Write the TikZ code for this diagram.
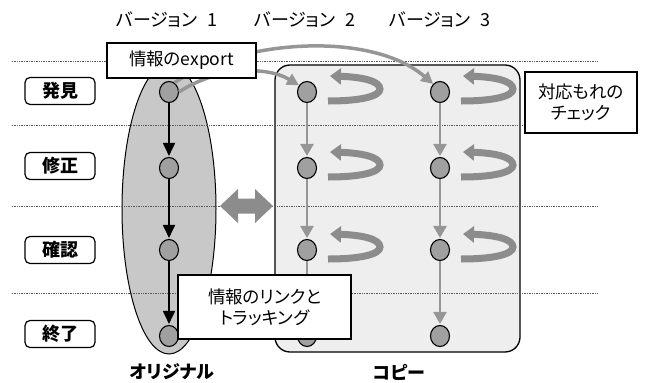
\documentclass[tikz,border=0pt]{standalone}
\usepackage{fontspec}
\setmainfont{Noto Sans CJK JP}[RawFeature=+palt]
\usetikzlibrary{arrows.meta,calc,shapes.geometric}
\definecolor{ellgray}{RGB}{200,200,200}
\definecolor{rectgray}{RGB}{238,238,238}
\definecolor{dotgray}{RGB}{160,160,160}
\definecolor{arrgray}{RGB}{150,150,150}
\definecolor{ugray}{RGB}{140,140,140}
\definecolor{linegray}{RGB}{90,90,90}
\tikzset{
  lbl/.style={draw, rounded corners=5pt, minimum width=70pt, minimum height=27pt, inner sep=0pt, line width=1.2pt, font=\bfseries\fontsize{18}{18}\selectfont},
  dotnode/.style={ellipse, draw, fill=dotgray, minimum width=19pt, minimum height=21pt, inner sep=0pt, line width=1.1pt},
  txtbox/.style={draw, fill=white, line width=1.2pt, align=center, inner sep=0pt, font=\fontsize{17.5}{21}\selectfont},
  hdr/.style={font=\fontsize{18}{18}\selectfont, inner sep=0pt},
  ftr/.style={font=\bfseries\fontsize{18}{18}\selectfont, inner sep=0pt},
  garrow/.style={draw=arrgray, line width=2.6pt, -{Triangle[width=13pt,length=12pt]}, shorten >=1pt},
  barrow/.style={draw=black, line width=1.8pt, -{Triangle[width=12pt,length=13pt]}, shorten >=1pt},
  uturn/.style={draw=ugray, line width=7pt, -{Triangle[width=16pt,length=11pt]}},
  exparrow/.style={draw=arrgray, line width=3.5pt, -{Triangle[width=12pt,length=12pt]}},
  guide/.style={draw=linegray, line width=0.7pt, dash pattern=on 0.8pt off 0.9pt},
}
\begin{document}
\begin{tikzpicture}[x=1pt,y=-1pt]
\useasboundingbox (0,0) rectangle (646,383);
% groups
\draw[fill=ellgray, line width=1pt] (169,209) ellipse [x radius=47, y radius=145];
\draw[fill=rectgray, line width=1.3pt, rounded corners=15pt] (275,65) rectangle (520,352);
% guide lines
\foreach \y in {61,125,206,293} \draw[guide] (12,\y) -- (597,\y);
% double arrow
\fill[ugray] (220,206) -- (238,189) -- (238,198.5) -- (255,198.5) -- (255,189) -- (273,206)
  -- (255,223) -- (255,213.5) -- (238,213.5) -- (238,223) -- cycle;
% circles
\foreach \n/\y in {a/92,b/168,c/250,d/336} {
  \node[dotnode] (o\n) at (169,\y) {};
  \node[dotnode] (p\n) at (307,\y) {};
  \node[dotnode] (q\n) at (440,\y) {};
}
% export arrows
\draw[exparrow] (oa.60) .. controls (240,40) and (370,30) .. (qa.130);
\draw[exparrow] (oa.east) .. controls (215,68) and (265,65) .. (pa.140);
% vertical arrows
\foreach \s/\t in {a/b,b/c,c/d} {
  \draw[barrow] (o\s.south) -- (o\t.north);
  \draw[garrow] (p\s.south) -- (p\t.north);
  \draw[garrow] (q\s.south) -- (q\t.north);
}
% u-turn arrows
\foreach \c in {pa,pb,pc,qa,qb,qc} {
  \draw[uturn] ($(\c)+(21,9)$) .. controls ($(\c)+(55,9)$) and ($(\c)+(73,4)$) .. ($(\c)+(73,-3)$)
    .. controls ($(\c)+(73,-11)$) and ($(\c)+(55,-15)$) .. ($(\c)+(23,-16)$);
}
% text boxes
\node[txtbox, minimum width=149pt, minimum height=35pt] (exp) at (181.5,60.5) {情報のexport};
\node[txtbox, minimum width=173pt, minimum height=64pt] (link) at (264.5,307) {情報のリンクと\\トラッキング};
\node[txtbox, minimum width=112pt, minimum height=61pt] (chk) at (581,102.5) {対応もれの\\チェック};
% row labels
\node[lbl] (l1) at (60,91) {発見};
\node[lbl] (l2) at (60,166) {修正};
\node[lbl] (l3) at (60,250) {確認};
\node[lbl] (l4) at (60,334) {終了};
% headers
\node[hdr] (h1) at (167,20) {バージョン\hspace{10pt}1};
\node[hdr] (h2) at (305,20) {バージョン\hspace{10pt}2};
\node[hdr] (h3) at (440,20) {バージョン\hspace{10pt}3};
% footers
\node[ftr] (f1) at (172,372) {オリジナル};
\node[ftr] (f2) at (399,372) {コピー};
\end{tikzpicture}
\end{document}
